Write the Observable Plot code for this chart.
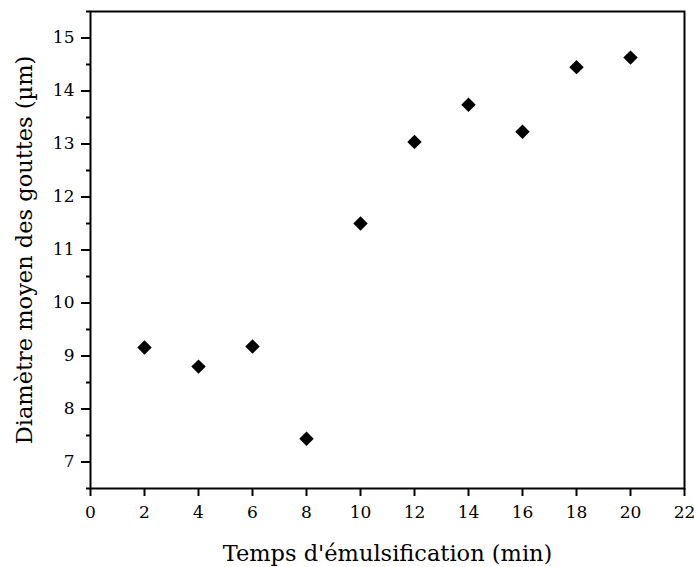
<!DOCTYPE html>
<html>
<head>
<meta charset="utf-8">
<script src="https://cdn.jsdelivr.net/npm/d3@7"></script>
<script src="https://cdn.jsdelivr.net/npm/@observablehq/plot@0.6"></script>
<style>
  html, body { margin: 0; padding: 0; background: #fff; }
  #chart svg { display: block; }
</style>
</head>
<body>
<div id="chart"></div>
<script>
const times = [2, 4, 6, 8, 10, 12, 14, 16, 18, 20];
const diameters = [9.16, 8.80, 9.18, 7.44, 11.5, 13.04, 13.74, 13.23, 14.45, 14.63];
const xTicks = [0, 2, 4, 6, 8, 10, 12, 14, 16, 18, 20, 22];
const yTicks = [7, 8, 9, 10, 11, 12, 13, 14, 15];
const yMinorTicks = [6.5, 7.5, 8.5, 9.5, 10.5, 11.5, 12.5, 13.5, 14.5, 15.5];
const xLabel = "Temps d'émulsification (min)";
const yLabel = "Diamètre moyen des gouttes (µm)";

const data = times.map((t, i) => ({t, d: diameters[i]}));
const font = "'DejaVu Serif', serif";

const chart = Plot.plot({
  width: 694,
  height: 567,
  marginLeft: 90,
  marginRight: 10,
  marginTop: 11,
  marginBottom: 79,
  style: {fontFamily: font, fontSize: "17px", color: "black", background: "white"},
  x: {domain: [0, 22]},
  y: {domain: [6.5, 15.5]},
  marks: [
    Plot.frame({stroke: "black", strokeWidth: 2}),
    Plot.axisX({ticks: xTicks, tickSize: 8, tickPadding: 9, label: null, strokeWidth: 2, tickFormat: d => String(d)}),
    Plot.axisY({ticks: yTicks, tickSize: 9, tickPadding: 7, label: null, strokeWidth: 2, tickFormat: d => String(d)}),
    Plot.axisY({ticks: yMinorTicks, tickSize: 4, text: null, label: null, strokeWidth: 2}),
    Plot.dot(data, {x: "t", y: "d", symbol: "diamond2", r: 6.5, fill: "black", stroke: "none"}),
    Plot.text([xLabel], {frameAnchor: "bottom", dy: 72, fontSize: 22.5, fill: "black"}),
    Plot.text([yLabel], {frameAnchor: "left", textAnchor: "middle", rotate: -90, dx: -66, fontSize: 22.5, fill: "black"})
  ]
});
document.getElementById("chart").appendChild(chart);
</script>
</body>
</html>
